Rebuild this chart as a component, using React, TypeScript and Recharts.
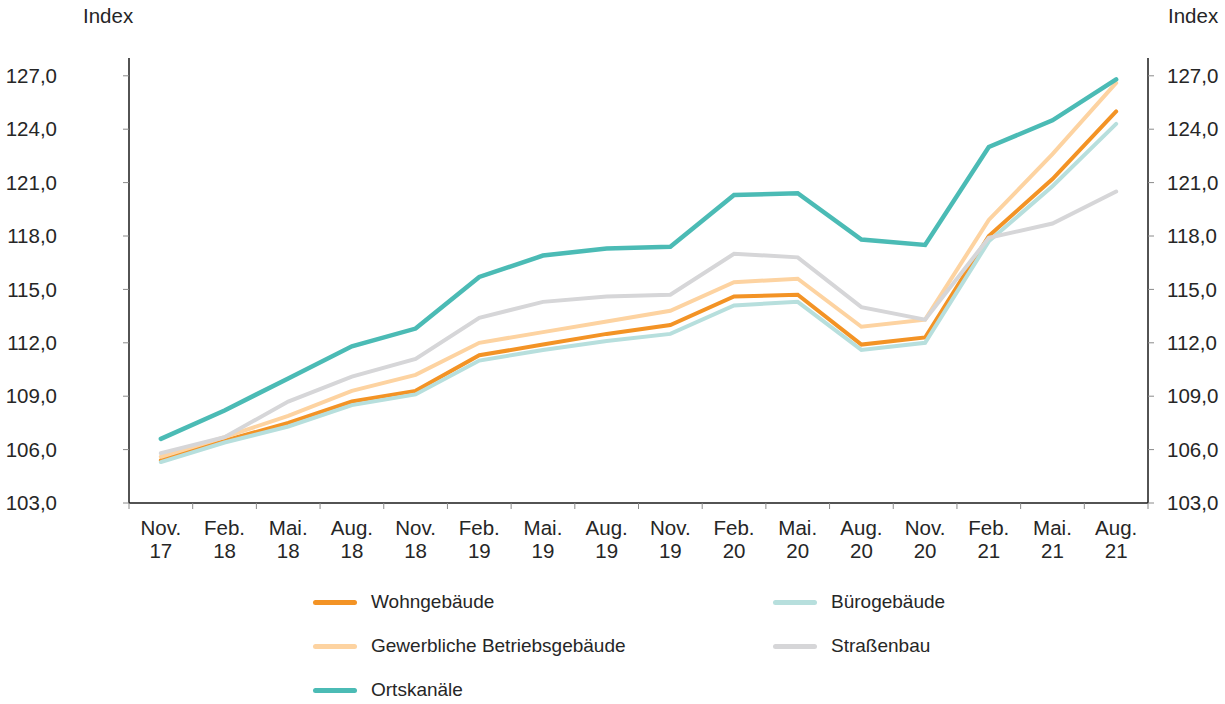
import { Line, LineChart, XAxis, YAxis } from 'recharts';

const months = ['Nov.', 'Feb.', 'Mai.', 'Aug.', 'Nov.', 'Feb.', 'Mai.', 'Aug.', 'Nov.', 'Feb.', 'Mai.', 'Aug.', 'Nov.', 'Feb.', 'Mai.', 'Aug.'];
const years = ['17', '18', '18', '18', '18', '19', '19', '19', '19', '20', '20', '20', '20', '21', '21', '21'];

const wohngebaeude = [105.4, 106.5, 107.5, 108.7, 109.3, 111.3, 111.9, 112.5, 113.0, 114.6, 114.7, 111.9, 112.3, 118.0, 121.2, 125.0];
const buerogebaeude = [105.3, 106.4, 107.3, 108.5, 109.1, 111.0, 111.6, 112.1, 112.5, 114.1, 114.3, 111.6, 112.0, 117.7, 120.8, 124.3];
const gewerbliche = [105.6, 106.7, 107.9, 109.3, 110.2, 112.0, 112.6, 113.2, 113.8, 115.4, 115.6, 112.9, 113.3, 118.9, 122.6, 126.6];
const strassenbau = [105.8, 106.7, 108.7, 110.1, 111.1, 113.4, 114.3, 114.6, 114.7, 117.0, 116.8, 114.0, 113.3, 117.9, 118.7, 120.5];
const ortskanaele = [106.6, 108.2, 110.0, 111.8, 112.8, 115.7, 116.9, 117.3, 117.4, 120.3, 120.4, 117.8, 117.5, 123.0, 124.5, 126.8];

const yTicks = [103, 106, 109, 112, 115, 118, 121, 124, 127];
const centerTicks = months.map((_, i) => i);
const boundaryTicks = [...months.map((_, i) => i - 0.5), months.length - 0.5];

const data = months.map((m, i) => ({
  i,
  wohn: wohngebaeude[i],
  buero: buerogebaeude[i],
  gewerbe: gewerbliche[i],
  strasse: strassenbau[i],
  orts: ortskanaele[i],
}));

const FONT = '"Liberation Sans", Arial, sans-serif';
const TEXT = '#262626';
const AXIS = '#1a1a1a';
const TICK = '#8a8a8a';
const AXIS_FS = 20.5;

const series = [
  { key: 'wohn', name: 'Wohngebäude', color: '#F39325' },
  { key: 'buero', name: 'Bürogebäude', color: '#B7DFDD' },
  { key: 'gewerbe', name: 'Gewerbliche Betriebsgebäude', color: '#FDD3A1' },
  { key: 'strasse', name: 'Straßenbau', color: '#D6D6D8' },
  { key: 'orts', name: 'Ortskanäle', color: '#4BBBB5' },
];

// legend layout: two columns, order as in the reference
const legendOrder = [
  ['wohn', 'buero'],
  ['gewerbe', 'strasse'],
  ['orts'],
];

const fmt = (v: number) => v.toFixed(1).replace('.', ',');

function MonthTick(props: any) {
  const { x, y, payload } = props;
  const idx = payload.value as number;
  return (
    <text x={x} y={y} textAnchor="middle" fill={TEXT} fontSize={AXIS_FS} fontFamily={FONT}>
      <tspan x={x} dy={31}>{months[idx]}</tspan>
      <tspan x={x} dy={23}>{years[idx]}</tspan>
    </text>
  );
}

export default function App() {
  const byKey = Object.fromEntries(series.map((s) => [s.key, s]));
  return (
    <div style={{ position: 'absolute', left: 0, top: 0, width: 1225, height: 704, background: '#fff', fontFamily: FONT }}>
      <div style={{ position: 'absolute', left: 83, top: 4, fontSize: AXIS_FS, color: TEXT }}>Index</div>
      <div style={{ position: 'absolute', left: 1168, top: 4, fontSize: AXIS_FS, color: TEXT }}>Index</div>

      <LineChart width={1225} height={580} data={data} margin={{ top: 58, right: 0, left: 0, bottom: 0 }}>
        <XAxis
          xAxisId="grid"
          type="number"
          dataKey="i"
          domain={[-0.5, months.length - 0.5]}
          ticks={boundaryTicks}
          interval={0}
          tick={() => <g />}
          height={1}
          axisLine={{ stroke: AXIS, strokeWidth: 1.5 }}
          tickLine={{ stroke: TICK }}
          tickSize={6}
        />
        <XAxis
          xAxisId="lbl"
          type="number"
          dataKey="i"
          domain={[-0.5, months.length - 0.5]}
          ticks={centerTicks}
          interval={0}
          axisLine={false}
          tickLine={false}
          tickSize={0}
          tickMargin={0}
          height={76}
          tick={<MonthTick />}
        />
        <YAxis
          yAxisId="left"
          domain={[103, 128]}
          ticks={yTicks}
          interval={0}
          width={129}
          axisLine={{ stroke: AXIS, strokeWidth: 1.5 }}
          tickLine={{ stroke: TICK }}
          tickSize={6}
          tickMargin={66}
          tickFormatter={fmt}
          tick={{ fill: TEXT, fontSize: AXIS_FS, fontFamily: FONT }}
          allowDataOverflow
        />
        <YAxis
          yAxisId="right"
          orientation="right"
          domain={[103, 128]}
          ticks={yTicks}
          interval={0}
          width={77}
          axisLine={{ stroke: AXIS, strokeWidth: 1.5 }}
          tickLine={{ stroke: TICK }}
          tickSize={6}
          tickMargin={13}
          tickFormatter={fmt}
          tick={{ fill: TEXT, fontSize: AXIS_FS, fontFamily: FONT }}
          allowDataOverflow
        />
        {['wohn', 'buero', 'gewerbe', 'strasse', 'orts'].map((k) => (
          <Line
            key={k}
            xAxisId="grid"
            yAxisId="left"
            type="linear"
            dataKey={k}
            name={byKey[k].name}
            stroke={byKey[k].color}
            strokeWidth={k === 'orts' ? 4.5 : 4}
            strokeLinecap="round"
            dot={false}
            activeDot={false}
            isAnimationActive={false}
          />
        ))}
      </LineChart>

      {legendOrder.map((row, r) =>
        row.map((k, c) => (
          <div
            key={k}
            style={{
              position: 'absolute',
              left: c === 0 ? 313 : 773,
              top: 602 + r * 44 - 12,
              height: 24,
              display: 'flex',
              alignItems: 'center',
              fontSize: 19,
              color: TEXT,
              whiteSpace: 'nowrap',
            }}
          >
            <span style={{ display: 'inline-block', width: 44, height: 5, borderRadius: 3, background: byKey[k].color, marginRight: 14 }} />
            {byKey[k].name}
          </div>
        ))
      )}
    </div>
  );
}
